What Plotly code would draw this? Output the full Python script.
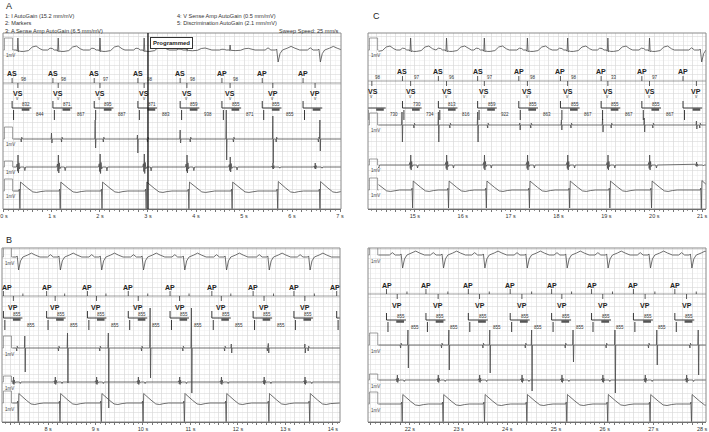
import numpy as np
import plotly.graph_objects as go

W, H = 709, 432
FONT = "Liberation Sans, Arial, sans-serif"

# ---------------- data ----------------
# Panel A (0-7 s)
A_atrial_times = [0.17, 1.02, 1.88, 2.79, 3.67, 4.54, 5.38, 6.23]
A_atrial_labels = ["AS", "AS", "AS", "AS", "AS", "AP", "AP", "AP"]
A_vent_times = [0.29, 1.13, 2.00, 2.92, 3.81, 4.71, 5.60, 6.48]
A_vent_labels = ["VS", "VS", "VS", "VS", "VS", "VS", "VP", "VP"]
A_marker_nums = ["98", "98", "97", "98", "98", "98", "", ""]
A_upper_nums = ["832", "871", "895", "871", "859", "855", "855", ""]
A_lower_nums = ["844", "867", "887", "883", "938", "871", "855", ""]
A_ch1_amp = [12, 12, 12, 12, 6, 5, 12, 12]
A_ch3_times = [0.16, 0.99, 1.90, 2.78, 3.67, 4.63, 5.60, 6.58]
A_ch3_up = [6, 6, 19, 4, 9, 29, 23, 19]
A_ch3_down = [14, 4, 9, 14, 4, 21, 24, 12]
A_ch4_amp = [12, 12, 13, 13, 12, 10, 4, 4]

# Panel B (7-14 s)
B_atrial_times = [7.06, 7.97, 8.83, 9.69, 10.57, 11.45, 12.32, 13.18, 14.08]
B_atrial_labels = ["AP"] * 9
B_vent_times = [7.27, 8.15, 9.02, 9.90, 10.77, 11.65, 12.55, 13.41]
B_vent_labels = ["VP"] * 8
B_marker_nums = [""] * 8
B_upper_nums = ["855"] * 8 + [""]
B_lower_nums = ["855"] * 7 + ["", ""]
B_ch1_amp = [13, 13, 13, 13, 13, 13, 13, 13]
B_ch3_times = [7.51, 8.41, 9.27, 10.15, 11.02, 11.86, 12.64, 13.41]
B_ch3_up = [12, 15, 15, 40, 40, 4, 4, 4]
B_ch3_down = [24, 35, 60, 30, 45, 5, 5, 5]
B_ch4_amp = [5, 5, 5, 5, 5, 5, 5, 5]

# Panel C (14-21 s)
C_atrial_times = [13.99, 14.74, 15.49, 16.31, 17.17, 18.04, 18.89, 19.74, 20.60]
C_atrial_labels = ["", "AS", "AS", "AS", "AP", "AP", "AP", "AP", "AP"]
C_vent_times = [14.10, 14.91, 15.66, 16.45, 17.35, 18.19, 19.03, 19.90, 20.88]
C_vent_labels = ["VS"] * 8 + ["VP"]
C_marker_nums = ["98", "97", "96", "97", "98", "98", "33", "97", ""]
C_upper_nums = ["", "730", "813", "859", "855", "855", "855", "855", ""]
C_lower_nums = ["730", "734", "816", "922", "863", "867", "867", "867", ""]
C_ch1_amp = [12, 12, 12, 12, 12, 12, 12, 12, 12]
C_ch3_times = [14.73, 15.49, 16.31, 17.19, 18.06, 18.92, 19.79, 20.88]
C_ch3_up = [13, 13, 13, 2, 5, 6, 7, 4]
C_ch3_down = [17, 17, 17, 5, 5, 7, 7, 4]
C_ch4_amp = [10, 10, 10, 10, 10, 10, 10, 10, 3]

# Panel D (21-28 s)
D_atrial_times = [21.52, 22.33, 23.20, 24.06, 24.91, 25.73, 26.59, 27.44]
D_atrial_labels = ["AP"] * 8
D_vent_times = [21.74, 22.58, 23.43, 24.30, 25.12, 25.96, 26.83, 27.68]
D_vent_labels = ["VP"] * 8
D_marker_nums = [""] * 8
D_upper_nums = ["855"] * 8
D_lower_nums = ["855"] * 7 + [""]
D_ch1_amp = [13, 13, 13, 13, 13, 13, 13, 13]
D_ch3_times = [21.96, 22.80, 23.64, 24.50, 25.35, 26.21, 27.07, 27.92]
D_ch3_up = [15, 15, 15, 15, 15, 15, 15, 15]
D_ch3_down = [23, 25, 28, 46, 17, 48, 20, 30]
D_ch4_amp = [5, 5, 5, 5, 5, 5, 5, 5]

header_left = ["1: I AutoGain (15.2 mm/mV)", "2: Markers", "3: A Sense Amp AutoGain (6.5 mm/mV)"]
header_right = ["4: V Sense Amp AutoGain (0.5 mm/mV)", "5: Discrimination AutoGain (2.1 mm/mV)"]
sweep_text = "Sweep Speed: 25 mm/s"

# ---------------- beat shape templates (time offset s, relative amplitude) ----------------
SURF_S_DT = [-0.22, -0.17, -0.12, -0.08, -0.025, -0.012, 0.0, 0.014, 0.03, 0.06, 0.12, 0.22, 0.30, 0.38, 0.46, 0.52]
SURF_S_Y = [0, 0.15, 0.12, 0, 0, -0.1, 1.0, -0.15, -0.08, -0.12, -0.12, -0.05, 0.25, 0.33, 0.1, 0]
SURF_P_DT = [-0.16, -0.10, -0.04, 0.06, 0.08, 0.11, 0.15, 0.20, 0.30, 0.38, 0.46, 0.56]
SURF_P_Y = [0, 0.18, 0, 0, 0.08, -1.0, -0.3, 0, 0.15, 0.3, 0.15, 0]
SPIKE_UP_DT = [-0.008, 0.0, 0.006]
SPIKE_UP_Y = [0, 1, 0]
SPIKE_DN_DT = [0.002, 0.009, 0.016]
SPIKE_DN_Y = [0, -1, 0]
FAR_DT = [0.06, 0.07, 0.08, 0.095]
FAR_Y = [0, -1, 0.6, 0]
V_EGM_DT = [-0.03, -0.015, -0.006, 0.003, 0.012, 0.022, 0.035, 0.05, 0.13, 0.145, 0.16]
V_EGM_Y = [0, 0.25, -0.35, 1.0, -0.5, 0.35, -0.15, 0, 0, -0.3, 0]
DISC_S_DT = [0.02, 0.03, 0.042, 0.055, 0.075, 0.13, 0.21, 0.31, 0.39, 0.48, 0.58]
DISC_P_DT = [0.08, 0.09, 0.102, 0.115, 0.135, 0.19, 0.27, 0.37, 0.45, 0.54, 0.64]
DISC_Y = [0, 0.1, -1.0, 0.5, 0.45, 0.32, 0.15, -0.05, -0.08, -0.03, 0]
DISC_AMP = 18

# ---------------- layout of the four panels (pixel positions) ----------------
PANELS = [
    dict(name="A", px=(3, 341), py=(33, 209), xr=(-0.02, 7.02),
         ch1=50, mk=83, br=108, ch3=139, ch4=167, ch5=191, vmark=True,
         at=A_atrial_times, al=A_atrial_labels, vt=A_vent_times, vl=A_vent_labels,
         mn=A_marker_nums, un=A_upper_nums, ln=A_lower_nums, c1=A_ch1_amp,
         c3t=A_ch3_times, c3u=A_ch3_up, c3d=A_ch3_down, c4=A_ch4_amp),
    dict(name="B", px=(2, 340), py=(248, 422), xr=(7.03, 14.15),
         ch1=257, mk=296, br=318, ch3=348, ch4=382, ch5=403, vmark=False,
         at=B_atrial_times, al=B_atrial_labels, vt=B_vent_times, vl=B_vent_labels,
         mn=B_marker_nums, un=B_upper_nums, ln=B_lower_nums, c1=B_ch1_amp,
         c3t=B_ch3_times, c3u=B_ch3_up, c3d=B_ch3_down, c4=B_ch4_amp),
    dict(name="C", px=(368, 706), py=(33, 209), xr=(14.02, 21.08),
         ch1=50, mk=81, br=108, ch3=125, ch4=165, ch5=190, vmark=True,
         at=C_atrial_times, al=C_atrial_labels, vt=C_vent_times, vl=C_vent_labels,
         mn=C_marker_nums, un=C_upper_nums, ln=C_lower_nums, c1=C_ch1_amp,
         c3t=C_ch3_times, c3u=C_ch3_up, c3d=C_ch3_down, c4=C_ch4_amp),
    dict(name="D", px=(368, 706), py=(248, 422), xr=(21.14, 28.08),
         ch1=255, mk=294, br=320, ch3=345, ch4=380, ch5=404, vmark=False,
         at=D_atrial_times, al=D_atrial_labels, vt=D_vent_times, vl=D_vent_labels,
         mn=D_marker_nums, un=D_upper_nums, ln=D_lower_nums, c1=D_ch1_amp,
         c3t=D_ch3_times, c3u=D_ch3_up, c3d=D_ch3_down, c4=D_ch4_amp),
]

TRACE = "#4a4a4a"


def channel(components, base, x0, x1):
    nodes = [x0, x1]
    for times, scales, dts, shape in components:
        for t in times:
            nodes.extend(np.asarray(dts) + t)
    xs = np.unique(np.clip(np.asarray(nodes, dtype=float), x0, x1))
    ys = np.zeros_like(xs)
    for times, scales, dts, shape in components:
        for t, s in zip(times, scales):
            ys += s * np.interp(xs, np.asarray(dts) + t, shape, left=0, right=0)
    return xs, base - ys


fig = go.Figure()
annotations = []
shapes = []
layout_axes = {}

for i, P in enumerate(PANELS):
    k = "" if i == 0 else str(i + 1)
    xa, ya = "x" + k, "y" + k
    x0, x1 = P["xr"]
    top, bot = P["py"]
    vt = P["vt"]
    sensed = [j for j, l in enumerate(P["vl"]) if l == "VS"]
    paced = [j for j, l in enumerate(P["vl"]) if l == "VP"]
    pick = lambda arr, idx: [arr[j] for j in idx]

    comps = [(pick(vt, sensed), pick(P["c1"], sensed), SURF_S_DT, SURF_S_Y),
             (pick(vt, paced), pick(P["c1"], paced), SURF_P_DT, SURF_P_Y)]
    comps3 = [(P["c3t"], P["c3u"], SPIKE_UP_DT, SPIKE_UP_Y),
              (P["c3t"], P["c3d"], SPIKE_DN_DT, SPIKE_DN_Y),
              (vt, [3] * len(vt), FAR_DT, FAR_Y)]
    comps4 = [(vt, P["c4"], V_EGM_DT, V_EGM_Y)]
    comps5 = [(pick(vt, sensed), [DISC_AMP] * len(sensed), DISC_S_DT, DISC_Y),
              (pick(vt, paced), [DISC_AMP + 1] * len(paced), DISC_P_DT, DISC_Y)]

    for cmp, base in ((comps, P["ch1"]), (comps3, P["ch3"]), (comps4, P["ch4"]), (comps5, P["ch5"])):
        xs, ys = channel(cmp, base, x0 + 0.22, x1)
        fig.add_trace(go.Scatter(x=xs, y=ys, mode="lines", xaxis=xa, yaxis=ya,
                                 line=dict(color=TRACE, width=0.8), hoverinfo="skip",
                                 showlegend=False))
        cal_h = 12 if base != P["ch4"] else 6
        fig.add_trace(go.Scatter(x=[x0 + 0.005, x0 + 0.03, x0 + 0.03, x0 + 0.2, x0 + 0.2, x0 + 0.22],
                                 y=[base, base, base - cal_h, base - cal_h, base, base],
                                 mode="lines", xaxis=xa, yaxis=ya, hoverinfo="skip",
                                 line=dict(color="#777", width=0.7), showlegend=False))
        annotations.append(dict(x=x0 + 0.02, y=base + 6, xref=xa, yref=ya, text="1mV",
                                showarrow=False, xanchor="left", yanchor="middle",
                                font=dict(size=4.5, color="#444", family=FONT)))

    # marker channel
    mk = P["mk"]
    fig.add_trace(go.Scatter(x=[x0, x1], y=[mk, mk], mode="lines", xaxis=xa, yaxis=ya,
                             line=dict(color="#777", width=0.7), hoverinfo="skip", showlegend=False))
    mx, my = [], []
    for t, lab in zip(P["at"], P["al"]):
        if x0 <= t <= x1:
            mx += [t, t, None]
            my += [mk - 5, mk, None]
        if lab:
            lx = min(max(t, x0 + 0.11), x1 - 0.11)
            annotations.append(dict(x=lx, y=mk - 9, xref=xa, yref=ya, text="<b>%s</b>" % lab,
                                    showarrow=False, font=dict(size=7, color="#222", family=FONT)))
    for t, lab in zip(vt, P["vl"]):
        mx += [t, t, None]
        my += [mk, mk + 5, None]
        lx = min(max(t, x0 + 0.11), x1 - 0.11)
        annotations.append(dict(x=lx, y=mk + 11, xref=xa, yref=ya, text="<b>%s</b>" % lab,
                                showarrow=False, font=dict(size=7, color="#222", family=FONT)))
        if P["vmark"]:
            annotations.append(dict(x=t, y=mk + 16, xref=xa, yref=ya, text="v",
                                    showarrow=False, font=dict(size=4.5, color="#444", family=FONT)))
        else:
            mx += [t + 0.2, t + 0.2, None]
            my += [mk - 2.5, mk, None]
    for t, num in zip(vt, P["mn"]):
        if num:
            annotations.append(dict(x=t + 0.02, y=mk - 3, xref=xa, yref=ya, text=num,
                                    showarrow=False, xanchor="left",
                                    font=dict(size=4.5, color="#333", family=FONT)))
    fig.add_trace(go.Scatter(x=mx, y=my, mode="lines", xaxis=xa, yaxis=ya,
                             line=dict(color="#333", width=0.8), hoverinfo="skip", showlegend=False))

    # interval brackets
    br = P["br"]
    bx, by, kx, ky = [], [], [], []
    for t, up, lo in zip(P["at"], P["un"], P["ln"]):
        bx += [t, t, min(t + 0.4, x1), None]
        by += [br - 7, br, br, None]
        kx += [t + 0.2, min(t + 0.36, x1), None]
        ky += [br + 1.5, br + 1.5, None]
        if up:
            annotations.append(dict(x=t + 0.42, y=br - 3.5, xref=xa, yref=ya, text=up,
                                    showarrow=False, xanchor="right",
                                    font=dict(size=4.5, color="#333", family=FONT)))
        if lo:
            annotations.append(dict(x=t + 0.58, y=br + 7, xref=xa, yref=ya, text=lo,
                                    showarrow=False,
                                    font=dict(size=4.5, color="#333", family=FONT)))
        bx += [t + 0.03, t + 0.03, None]
        by += [br + 2, br + 12, None]
    fig.add_trace(go.Scatter(x=bx, y=by, mode="lines", xaxis=xa, yaxis=ya,
                             line=dict(color="#222", width=0.9), hoverinfo="skip", showlegend=False))
    fig.add_trace(go.Scatter(x=kx, y=ky, mode="lines", xaxis=xa, yaxis=ya,
                             line=dict(color="#555", width=2.5), hoverinfo="skip", showlegend=False))

    # axes
    tv = np.round(np.arange(np.ceil(x0 / 0.2) * 0.2, x1 + 1e-9, 0.2), 2)
    tt = ["%d s" % round(v) if abs(v - round(v)) < 1e-6 else "" for v in tv]
    dom_x = [P["px"][0] / W, P["px"][1] / W]
    dom_y = [1 - bot / H, 1 - top / H]
    layout_axes["xaxis" + k] = dict(
        domain=dom_x, range=[x0, x1], anchor=ya, tickmode="array", tickvals=tv, ticktext=tt,
        automargin=False, ticklabeloverflow="allow",
        showgrid=True, gridcolor="#d9d9d9", gridwidth=0.6, zeroline=False,
        showline=True, linecolor="#555", linewidth=1, ticks="outside", ticklen=1.5,
        tickcolor="#777", tickfont=dict(size=5.5, color="#333", family=FONT),
        minor=dict(tickmode="linear", tick0=0, dtick=0.1, showgrid=True,
                   gridcolor="#eeeeee", gridwidth=0.5, ticks="outside", ticklen=1, tickcolor="#999"),
        fixedrange=True)
    layout_axes["yaxis" + k] = dict(
        domain=dom_y, range=[bot, top], anchor=xa, tickmode="linear", tick0=bot, dtick=9.6,
        automargin=False,
        showgrid=True, gridcolor="#d9d9d9", gridwidth=0.6, zeroline=False, showticklabels=False,
        ticks="", minor=dict(tickmode="linear", tick0=bot, dtick=4.8, showgrid=True,
                             gridcolor="#eeeeee", gridwidth=0.5), fixedrange=True)
    shapes.append(dict(type="rect", xref=xa + " domain", yref=ya + " domain", x0=0, x1=1, y0=0, y1=1,
                       line=dict(color="#8a8a8a", width=1)))

# panel letters
for letter, px, py in (("A", 4, 6), ("B", 4, 240), ("C", 371, 16)):
    annotations.append(dict(x=px / W, y=1 - py / H, xref="paper", yref="paper", text=letter,
                            showarrow=False, xanchor="left", yanchor="middle",
                            font=dict(size=9, color="#222", family=FONT)))
for j, txt in enumerate(header_left):
    annotations.append(dict(x=3 / W, y=1 - (15.5 + 7.5 * j) / H, xref="paper", yref="paper", text=txt,
                            showarrow=False, xanchor="left", yanchor="middle",
                            font=dict(size=5.6, color="#333", family=FONT)))
for j, txt in enumerate(header_right):
    annotations.append(dict(x=175 / W, y=1 - (15.5 + 7.5 * j) / H, xref="paper", yref="paper", text=txt,
                            showarrow=False, xanchor="left", yanchor="middle",
                            font=dict(size=5.6, color="#333", family=FONT)))
annotations.append(dict(x=341 / W, y=1 - 30.5 / H, xref="paper", yref="paper", text=sweep_text,
                        showarrow=False, xanchor="right", yanchor="middle",
                        font=dict(size=5.6, color="#333", family=FONT)))
shapes.append(dict(type="line", xref="x", yref="y domain", x0=3, x1=3, y0=0, y1=1,
                   line=dict(color="#111", width=1.3)))
annotations.append(dict(x=3.04, y=43.5, xref="x", yref="y", text="<b>Programmed</b>",
                        showarrow=False, xanchor="left", yanchor="middle", bgcolor="white",
                        bordercolor="#333", borderwidth=1, borderpad=2,
                        font=dict(size=6, color="#222", family=FONT)))

fig.update_layout(width=W, height=H, margin=dict(l=0, r=0, t=0, b=0, autoexpand=False),
                  paper_bgcolor="white", plot_bgcolor="white", showlegend=False,
                  annotations=annotations, shapes=shapes, **layout_axes)
fig.write_html("out.html", config={"displayModeBar": False, "staticPlot": True},
               post_script="document.body.style.margin='0';document.body.style.overflow='hidden';")
